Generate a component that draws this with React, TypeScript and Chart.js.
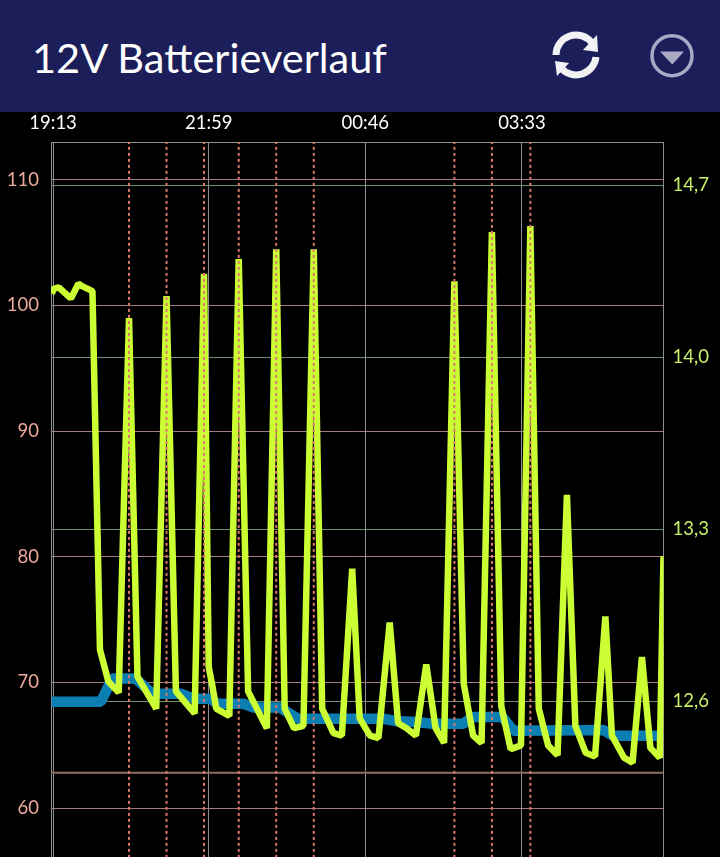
import React, { useEffect, useRef } from "react";
import { Chart, registerables } from "chart.js";

Chart.register(...registerables);

const TITLE = "12V Batterieverlauf";

// minutes since 19:13
const voltMinutes = [-1.5, 1, 6, 19, 27, 31, 42, 50, 59, 70, 81, 90, 110, 121, 131, 151, 161, 166, 170, 174, 188, 198, 208, 228, 238, 247, 257, 267, 278, 287, 299, 308, 319, 327, 338, 347, 359, 368, 377, 387, 398, 408, 417, 428, 438, 448, 457, 468, 478, 488, 499, 509, 518, 528, 538, 548, 557, 568, 578, 589, 596, 609, 618, 628, 637, 647, 651];
const voltValues = [14.26, 14.28, 14.285, 14.24, 14.3, 14.29, 14.27, 12.81, 12.68, 12.635, 14.16, 12.7, 12.57, 14.25, 12.64, 12.55, 14.34, 12.74, 12.66, 12.57, 12.54, 14.4, 12.64, 12.49, 14.44, 12.57, 12.49, 12.5, 14.44, 12.57, 12.47, 12.46, 13.14, 12.53, 12.46, 12.45, 12.92, 12.51, 12.49, 12.46, 12.75, 12.49, 12.43, 14.31, 12.67, 12.46, 12.43, 14.51, 12.58, 12.405, 12.42, 14.535, 12.57, 12.42, 12.38, 13.44, 12.5, 12.39, 12.375, 12.945, 12.46, 12.37, 12.35, 12.78, 12.41, 12.37, 13.19];

const chargeMinutes = [-1.5, 51, 63, 88, 106, 136, 150, 168, 175, 203, 214, 242, 261, 352, 368, 387, 405, 437, 448, 479, 491, 587, 597, 647];
const chargeValues = [68.45, 68.45, 70.3, 70.3, 69.1, 69.1, 68.7, 68.7, 68.3, 68.3, 68.0, 68.0, 67.1, 67.1, 66.9, 66.85, 66.7, 66.7, 67.25, 67.25, 66.15, 66.2, 65.75, 65.75];

const markerMinutes = [81, 121, 161, 198, 238, 278, 428, 468, 509];
const thresholdPercent = 62.8;

const timeTicks = [0, 166, 333, 500];
const timeLabels = ["19:13", "21:59", "00:46", "03:33"];
const percentTicks = [60, 70, 80, 90, 100, 110];
const voltTicks = [12.6, 13.3, 14.0, 14.7];
const voltLabels = ["12,6", "13,3", "14,0", "14,7"];

const FONT = "Lato, 'Open Sans', sans-serif";
const PERCENT_MIN = 56.03;
const PERCENT_MAX = 113;
const TIME_MIN = -2.2;
const TIME_MAX = 651;

export default function App() {
  const ref = useRef<HTMLCanvasElement>(null);
  useEffect(() => {
    document.body.style.margin = "0";
    document.body.style.background = "#000";
    const canvas = ref.current!;
    const chart = new Chart(canvas, {
      type: "scatter",
      data: {
        datasets: [
          ...markerMinutes.map((m) => ({
            data: [{ x: m, y: PERCENT_MIN }, { x: m, y: PERCENT_MAX }],
            yAxisID: "yL",
            showLine: true,
            borderColor: "#d9776c",
            borderWidth: 2,
            borderDash: [3, 3],
            pointRadius: 0,
          })),
          {
            data: voltMinutes.map((x, i) => ({ x, y: voltValues[i] })),
            yAxisID: "yR",
            showLine: true,
            borderColor: "#ccff33",
            borderWidth: 6.5,
            borderJoinStyle: "bevel",
            tension: 0,
            pointRadius: 0,
          },
          {
            data: chargeMinutes.map((x, i) => ({ x, y: chargeValues[i] })),
            yAxisID: "yL",
            showLine: true,
            borderColor: "#0b7fb2",
            borderWidth: 10.5,
            borderJoinStyle: "bevel",
            tension: 0,
            pointRadius: 0,
          },
          {
            data: [{ x: TIME_MIN, y: thresholdPercent }, { x: TIME_MAX, y: thresholdPercent }],
            yAxisID: "yL",
            showLine: true,
            borderColor: "#8f6f62",
            borderWidth: 2,
            pointRadius: 0,
          },
        ],
      },
      options: {
        responsive: false,
        animation: false,
        plugins: { legend: { display: false }, tooltip: { enabled: false }, title: { display: false } },
        layout: { padding: 0, autoPadding: false },
        scales: {
          x: {
            type: "linear",
            position: "top",
            min: TIME_MIN,
            max: TIME_MAX,
            afterBuildTicks: (s: any) => { s.ticks = timeTicks.map((value) => ({ value })); },
            afterFit: (s: any) => { s.height = 30; },
            ticks: {
              autoSkip: false,
              maxRotation: 0,
              color: "#ffffff",
              padding: 8,
              font: { family: FONT, size: 18.5 },
              callback: (v: any) => timeLabels[timeTicks.indexOf(Number(v))] ?? "",
            },
            grid: { color: "#8f8f8f", lineWidth: 1, drawTicks: false },
            border: { display: true, color: "#8f8f8f", width: 1 },
          },
          yL: {
            type: "linear",
            position: "left",
            min: PERCENT_MIN,
            max: PERCENT_MAX,
            afterBuildTicks: (s: any) => { s.ticks = percentTicks.map((value) => ({ value })); },
            afterFit: (s: any) => { s.width = 51; },
            ticks: { color: "#eaa99b", padding: 12, font: { family: FONT, size: 18.5 } },
            grid: { color: "#a07d7d", lineWidth: 1, drawTicks: false },
            border: { display: true, color: "#8f8f8f", width: 1 },
          },
          yR: {
            type: "linear",
            position: "right",
            min: 11.962,
            max: 14.877,
            afterBuildTicks: (s: any) => { s.ticks = voltTicks.map((value) => ({ value })); },
            afterFit: (s: any) => { s.width = 56.5; },
            ticks: {
              color: "#c8ee6a",
              padding: 9,
              font: { family: FONT, size: 18.5 },
              callback: (v: any) => voltLabels[voltTicks.indexOf(Number(v))] ?? "",
            },
            grid: { color: "#6f9070", lineWidth: 1, drawTicks: false },
            border: { display: true, color: "#8f8f8f", width: 1 },
          },
        },
      },
    } as any);
    return () => chart.destroy();
  }, []);

  return (
    <div style={{ width: 720, height: 857, overflow: "hidden", background: "#000" }}>
      <div style={{ position: "relative", width: 720, height: 112, background: "#1c1e59" }}>
        <div style={{ position: "absolute", left: 32, top: 33, color: "#fff", fontFamily: FONT, fontSize: 41.5, lineHeight: "48px", whiteSpace: "nowrap" }}>
          {TITLE}
        </div>
        <svg width="720" height="112" style={{ position: "absolute", left: 0, top: 0 }}>
          <g fill="none" stroke="#f2f2f4" strokeWidth="7">
            <path d="M556 55 A 20 20 0 0 1 592 43" />
            <path d="M596 57 A 20 20 0 0 1 561 68" />
          </g>
          <polygon points="597,35 598,52 583,50" fill="#f2f2f4" />
          <polygon points="555,61 557,76 569,63" fill="#f2f2f4" />
          <circle cx="672" cy="55.7" r="20" fill="none" stroke="#a9a9c4" strokeWidth="3.5" />
          <polygon points="660,51.5 684,51.5 672.3,64.5" fill="#a9a9c4" />
        </svg>
      </div>
      <canvas ref={ref} width={720} height={769} style={{ display: "block" }} />
    </div>
  );
}
